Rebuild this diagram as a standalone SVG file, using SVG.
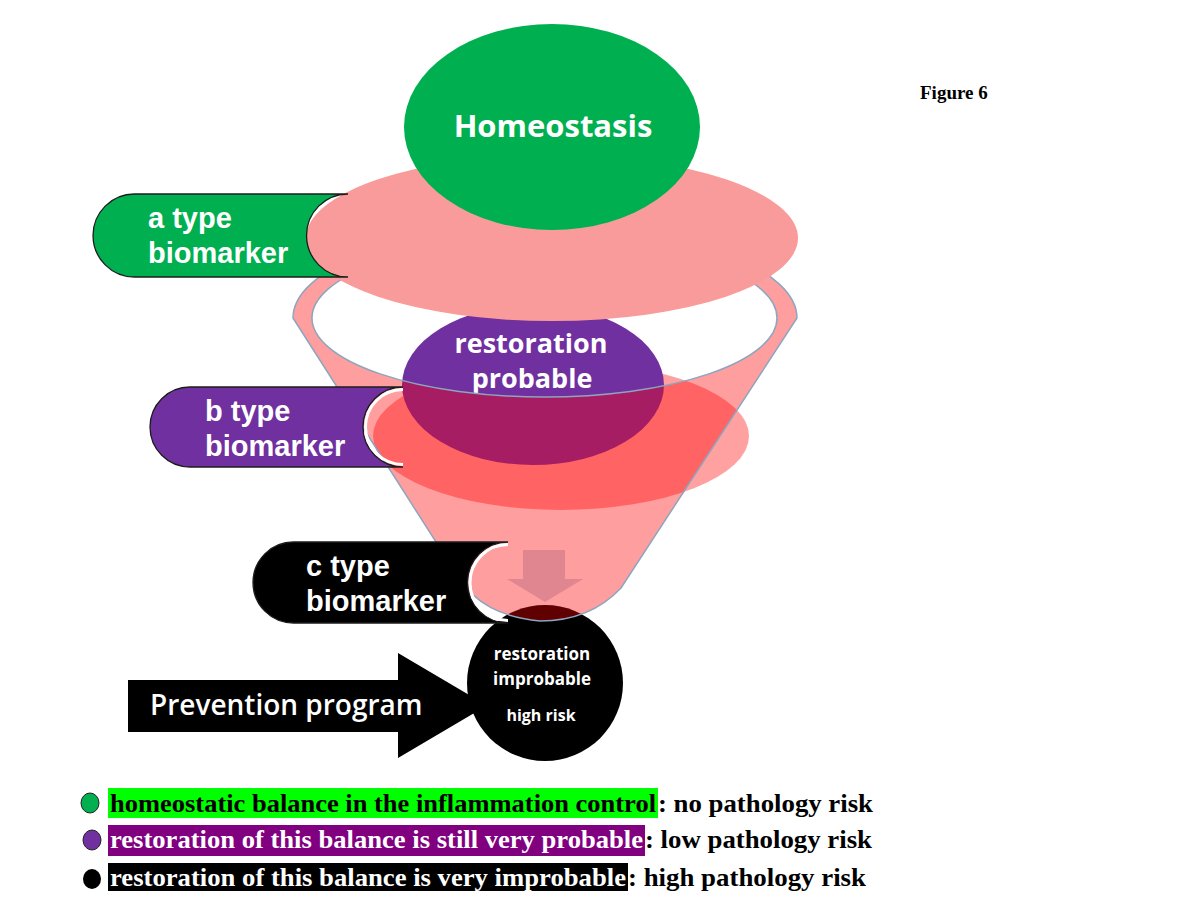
<svg xmlns="http://www.w3.org/2000/svg" width="1200" height="900" viewBox="0 0 1200 900">
<style>
.lbl{font-family:"Liberation Sans",Arial,sans-serif;font-weight:bold;font-size:29px;fill:#fff}
.os{font-family:"Open Sans","Noto Sans",sans-serif;font-weight:bold;fill:#fff}
.leg{font-family:"Liberation Serif","Times New Roman",serif;font-weight:bold;font-size:26px}
.edge{fill:none;stroke:#fff;stroke-width:3}
</style>
<rect width="1200" height="900" fill="#fff"/>

<g id="node-high-risk">
  <circle cx="545" cy="683" r="78" fill="#000"/>
  <text class="os" font-size="17" text-anchor="middle" x="542" y="660">restoration</text>
  <text class="os" font-size="17" text-anchor="middle" x="542" y="685">improbable</text>
  <text class="os" font-size="16" text-anchor="middle" x="541" y="721">high risk</text>
</g>

<g id="node-b-level">
  <ellipse cx="561" cy="436" rx="188" ry="74" fill="#FF0000" fill-opacity="0.37"/>
</g>

<g id="node-restoration-probable">
  <ellipse cx="533" cy="385" rx="131" ry="80" fill="#7030A0"/>
  <text class="os" font-size="27" text-anchor="middle" x="531" y="353">restoration</text>
  <text class="os" font-size="27" text-anchor="middle" x="532" y="388">probable</text>
</g>

<g id="node-funnel">
  <path fill="#FF0000" fill-opacity="0.38" fill-rule="evenodd" stroke="#8DA5BE" stroke-width="1.5"
    d="M 293,318 L 459,578 C 475,603 500,617 540,621 C 580,621 605,605 621,588 L 797,318 A 252 92 0 0 0 293,318 Z
       M 312,318 A 232.5 79 0 0 1 777,318 A 232.5 79 0 0 1 312,318 Z"/>
  <polygon points="523,550 565,550 565,579 583,579 545,602 507,579 523,579" fill="#DF8690"/>
</g>

<g id="node-a-level">
  <ellipse cx="552" cy="238" rx="246" ry="83" fill="#FA9B9B"/>
</g>

<g id="node-homeostasis">
  <ellipse cx="552" cy="127" rx="148" ry="103" fill="#00B050"/>
  <text class="os" font-size="31" text-anchor="middle" x="553" y="137">Homeostasis</text>
</g>

<g id="node-a-type">
  <path d="M 348,194 L 134.5,194 A 41.5 41.5 0 0 0 134.5,277 L 348,277 A 41.5 41.5 0 0 1 348,194 Z" fill="#00B050" stroke="#1c1c1c" stroke-width="1.3"/>
  <text class="lbl" x="148" y="228">a type</text>
  <text class="lbl" x="148" y="263">biomarker</text>
</g>

<g id="node-b-type">
  <path d="M 403,387 L 190,387 A 40 40 0 0 0 190,467 L 403,467 A 40 40 0 0 1 403,387 Z" fill="#7030A0" stroke="#1c1c1c" stroke-width="1.3"/>
  <path class="edge" d="M 403,464.5 A 37.5 37.5 0 0 1 403,389.5"/>
  <text class="lbl" x="205" y="421">b type</text>
  <text class="lbl" x="205" y="456">biomarker</text>
</g>

<g id="node-c-type">
  <path d="M 508,542 L 293.5,542 A 40.5 40.5 0 0 0 293.5,623 L 508,623 A 40.5 40.5 0 0 1 508,542 Z" fill="#000" stroke="#1c1c1c" stroke-width="1.3"/>
  <path class="edge" d="M 508,620.5 A 38 38 0 0 1 508,544.5"/>
  <text class="lbl" x="306" y="576">c type</text>
  <text class="lbl" x="306" y="611">biomarker</text>
</g>

<g id="connectors">
  <g id="prevention-program">
    <polygon points="128,680 398,680 398,653 487,705.5 398,758 398,732 128,732" fill="#000"/>
    <text font-family="'Open Sans','Noto Sans',sans-serif" font-weight="600" font-size="28" fill="#fff" x="150" y="715">Prevention program</text>
  </g>
</g>

<g id="legend">
  <ellipse cx="90" cy="803" rx="9" ry="10" fill="#00B050" stroke="#222" stroke-width="1"/>
  <rect x="108" y="788" width="550" height="30" fill="#00FF00"/>
  <text class="leg" x="110" y="812" textLength="546" lengthAdjust="spacingAndGlyphs" fill="#000">homeostatic balance in the inflammation control</text>
  <text class="leg" x="658" y="812" textLength="215" lengthAdjust="spacingAndGlyphs" fill="#000">: no pathology risk</text>

  <ellipse cx="92" cy="840" rx="9" ry="10" fill="#7030A0" stroke="#222" stroke-width="1"/>
  <rect x="108" y="825" width="537" height="31" fill="#800080"/>
  <text class="leg" x="110" y="848" textLength="533" lengthAdjust="spacingAndGlyphs" fill="#fff">restoration of this balance is still very probable</text>
  <text class="leg" x="645" y="848" textLength="227" lengthAdjust="spacingAndGlyphs" fill="#000">: low pathology risk</text>

  <ellipse cx="92" cy="879" rx="9" ry="10" fill="#000"/>
  <rect x="108" y="863" width="520" height="28" fill="#000"/>
  <text class="leg" x="110" y="886" textLength="516" lengthAdjust="spacingAndGlyphs" fill="#fff">restoration of this balance is very improbable</text>
  <text class="leg" x="628" y="886" textLength="238" lengthAdjust="spacingAndGlyphs" fill="#000">: high pathology risk</text>
</g>

<text id="figure-title" font-family="'Liberation Serif','Times New Roman',serif" font-weight="bold" font-size="19" x="920" y="99">Figure 6</text>
</svg>
